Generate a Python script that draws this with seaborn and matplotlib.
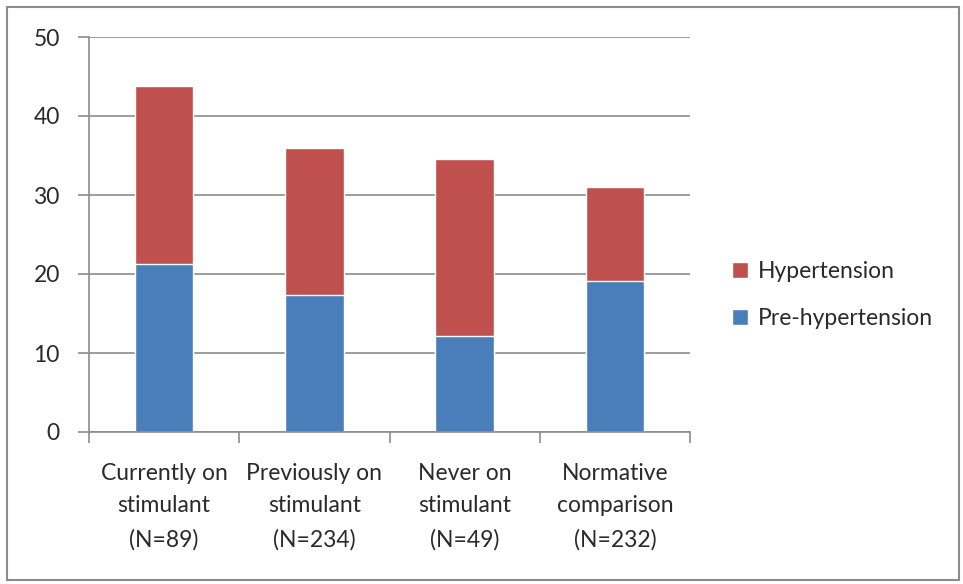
"""
Stacked bar chart: hypertension prevalence by stimulant group
"""

import matplotlib
matplotlib.use('Agg')
import matplotlib.pyplot as plt
from matplotlib.patches import Rectangle
import seaborn as sns
import pandas as pd

groups = ['Currently on\nstimulant\n(N=89)', 'Previously on\nstimulant\n(N=234)',
          'Never on\nstimulant\n(N=49)', 'Normative\ncomparison\n(N=232)']
pre_hypertension = [21.3, 17.4, 12.2, 19.1]
hypertension = [22.5, 18.5, 22.3, 11.9]

RED = '#C0504D'
BLUE = '#4A7EBB'
TEXT = '#2a2a2a'

sns.set_theme(style='white')
plt.rcParams['font.family'] = ['Lato', 'DejaVu Sans']

df = pd.DataFrame({'group': groups, 'pre': pre_hypertension, 'hyp': hypertension})
df['total'] = df['pre'] + df['hyp']

fig = plt.figure(figsize=(9.63, 5.84), dpi=100)
ax = fig.add_axes([89 / 963, 1 - 432 / 584, (690 - 89) / 963, (432 - 37) / 584])

# total bar in red, pre-hypertension drawn over it in blue
sns.barplot(data=df, x='group', y='total', color=RED, width=0.39, saturation=1,
            label='Hypertension', ax=ax, zorder=2)
sns.barplot(data=df, x='group', y='pre', color=BLUE, width=0.39, saturation=1,
            label='Pre-hypertension', ax=ax, zorder=2)

ax.set_ylim(0, 50)
ax.set_xlim(-0.5, 3.5)
ax.set_yticks(range(0, 51, 10))
ax.set_xlabel('')
ax.set_ylabel('')
ax.yaxis.grid(True, color='#8c8c8c', linewidth=1.2, zorder=0)
ax.set_axisbelow(True)

for side in ['top', 'right']:
    ax.spines[side].set_visible(False)
for side in ['left', 'bottom']:
    ax.spines[side].set_color('#8c8c8c')
    ax.spines[side].set_linewidth(1.2)

# x ticks at category boundaries
ax.set_xticks([-0.5, 0.5, 1.5, 2.5, 3.5], minor=False)
ax.set_xticklabels([])
ax.set_xticks(range(4), minor=True)
ax.set_xticklabels(groups, minor=True, fontsize=16.5, color=TEXT, linespacing=1.7)
ax.tick_params(axis='x', which='major', direction='out', length=8, width=1.2,
               color='#8c8c8c', bottom=True)
ax.tick_params(axis='x', which='minor', length=0, pad=22)
ax.tick_params(axis='y', direction='out', length=8, width=1.2, color='#8c8c8c',
               left=True, labelsize=16.5, labelcolor=TEXT, pad=13)

ax.legend(loc='center left', bbox_to_anchor=(1.035, 0.347), frameon=False,
          fontsize=16.5, handlelength=0.7, handleheight=0.7, handletextpad=0.45,
          labelspacing=1.15, labelcolor=TEXT)

# outer chart frame
fig.patches.append(Rectangle((7 / 963, 4 / 584), 952 / 963, 573 / 584,
                             transform=fig.transFigure, fill=False,
                             edgecolor='#8c8c8c', linewidth=1.5))

fig.savefig('out.png', dpi=100)
